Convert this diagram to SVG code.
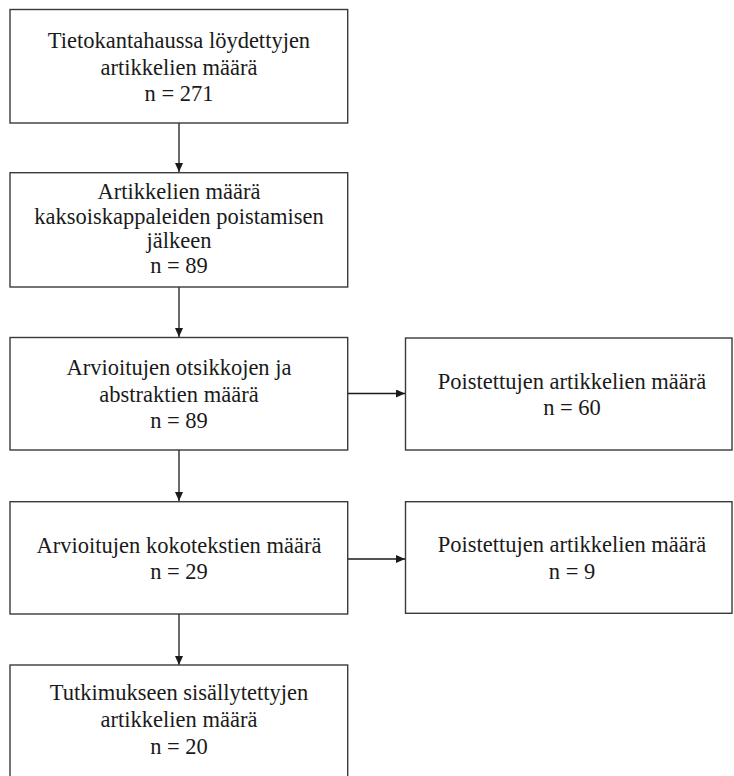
<svg xmlns="http://www.w3.org/2000/svg" width="734" height="776" viewBox="0 0 734 776">
<style>
  .box { fill: #ffffff; stroke: #3a3a3a; stroke-width: 1.4; }
  .lbl { font-size: 22.5px; fill: #1a1a1a; text-anchor: middle; }
  .conn { stroke: #1a1a1a; stroke-width: 1.3; fill: none; marker-end: url(#arr); }
</style>
<defs>
  <marker id="arr" markerWidth="10" markerHeight="8" refX="9" refY="4" orient="auto" markerUnits="userSpaceOnUse">
    <path d="M0,0 L9,4 L0,8 Z" fill="#1a1a1a"/>
  </marker>
</defs>
<rect width="734" height="776" fill="#ffffff"/>
<g id="connectors">
  <line class="conn" x1="179" y1="123" x2="179" y2="172"/>
  <line class="conn" x1="179" y1="287" x2="179" y2="337"/>
  <line class="conn" x1="179" y1="450" x2="179" y2="501"/>
  <line class="conn" x1="179" y1="614" x2="179" y2="665"/>
  <line class="conn" x1="348" y1="393.5" x2="405" y2="393.5"/>
  <line class="conn" x1="348" y1="559" x2="405" y2="559"/>
</g>
<g font-family="Liberation Serif, Times New Roman, DejaVu Serif, serif">
<g id="node1">
  <rect class="box" x="10" y="9.5" width="337.7" height="113.5"/>
  <text class="lbl" x="179" y="48">Tietokantahaussa löydettyjen</text>
  <text class="lbl" x="179" y="75">artikkelien määrä</text>
  <text class="lbl" x="179" y="101">n = 271</text>
</g>
<g id="node2">
  <rect class="box" x="10" y="172.7" width="337.7" height="114.3"/>
  <text class="lbl" x="179" y="199">Artikkelien määrä</text>
  <text class="lbl" x="179" y="223.5">kaksoiskappaleiden poistamisen</text>
  <text class="lbl" x="179" y="248">jälkeen</text>
  <text class="lbl" x="179" y="272.5">n = 89</text>
</g>
<g id="node3">
  <rect class="box" x="10" y="337.5" width="337.7" height="112.5"/>
  <text class="lbl" x="179" y="375">Arvioitujen otsikkojen ja</text>
  <text class="lbl" x="179" y="401.5">abstraktien määrä</text>
  <text class="lbl" x="179" y="427.5">n = 89</text>
</g>
<g id="node4">
  <rect class="box" x="405.5" y="338" width="326.5" height="112"/>
  <text class="lbl" x="572" y="388.5">Poistettujen artikkelien määrä</text>
  <text class="lbl" x="572" y="415">n = 60</text>
</g>
<g id="node5">
  <rect class="box" x="10" y="501.7" width="337.7" height="112.3"/>
  <text class="lbl" x="179" y="553">Arvioitujen kokotekstien määrä</text>
  <text class="lbl" x="179" y="578.5">n = 29</text>
</g>
<g id="node6">
  <rect class="box" x="405.5" y="501.7" width="326.5" height="111.6"/>
  <text class="lbl" x="572" y="552">Poistettujen artikkelien määrä</text>
  <text class="lbl" x="572" y="578.5">n = 9</text>
</g>
<g id="node7">
  <rect class="box" x="10" y="665" width="337.7" height="115"/>
  <text class="lbl" x="179" y="700">Tutkimukseen sisällytettyjen</text>
  <text class="lbl" x="179" y="727">artikkelien määrä</text>
  <text class="lbl" x="179" y="753.5">n = 20</text>
</g>
</g>
</svg>
